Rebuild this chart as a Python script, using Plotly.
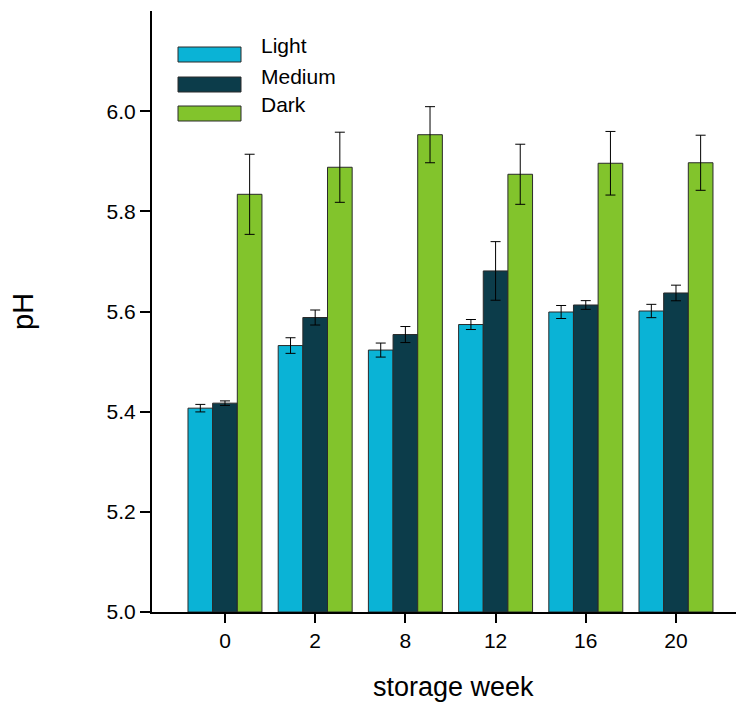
import plotly.graph_objects as go

weeks = ["0", "2", "8", "12", "16", "20"]
light = [5.407, 5.532, 5.523, 5.574, 5.599, 5.601]
light_err = [0.0075, 0.0156, 0.014, 0.010, 0.013, 0.0133]
medium = [5.417, 5.588, 5.554, 5.681, 5.613, 5.637]
medium_err = [0.0045, 0.015, 0.016, 0.0585, 0.0087, 0.0156]
dark = [5.834, 5.888, 5.953, 5.874, 5.896, 5.897]
dark_err = [0.080, 0.070, 0.056, 0.060, 0.0635, 0.055]

series_names = ["Light", "Medium", "Dark"]
colors = ["#0AB3D6", "#0C3C4A", "#82C42C"]
y_ticks = [5.0, 5.2, 5.4, 5.6, 5.8, 6.0]

FONT = "Liberation Sans, Arial, sans-serif"

fig = go.Figure()
for name, vals, errs, col in zip(series_names, [light, medium, dark],
                                 [light_err, medium_err, dark_err], colors):
    fig.add_trace(go.Bar(
        x=weeks, y=[v - 5.0 for v in vals], base=5.0, name=name,
        marker=dict(color=col, line=dict(color="#2a2a2a", width=1)),
        error_y=dict(type="data", array=errs, color="black", thickness=1, width=5),
        showlegend=False,
    ))

# page offset (browser body margin)
OFF = 8
W, H = 744 - OFF, 704 - OFF
# page-coordinate plot box: left 152, top 11, bottom 612, right 744
L, R, T, B = 152 - OFF, 0, 11 - OFF, 704 - 612
pw, ph = W - L - R, H - T - B

def px_x(px):
    return (px - OFF - L) / pw

def px_y(py):
    return (H - B - (py - OFF)) / ph

# legend drawn as swatches + labels
leg_rows = [(47, 62, 46), (77, 92, 76), (106, 121, 105)]
for (y0, y1, ty), name, col in zip(leg_rows, series_names, colors):
    fig.add_shape(type="rect", xref="paper", yref="paper",
                  x0=px_x(178), x1=px_x(241), y0=px_y(y1), y1=px_y(y0),
                  fillcolor=col, line=dict(color="#2a2a2a", width=1))
    fig.add_annotation(xref="paper", yref="paper", x=px_x(259), y=px_y(ty),
                       text=name, showarrow=False, xanchor="left", yanchor="middle",
                       font=dict(family=FONT, size=21, color="black"))

fig.add_annotation(xref="paper", yref="paper", x=px_x(23), y=px_y(312),
                   text="pH", textangle=-90, showarrow=False,
                   xanchor="center", yanchor="middle",
                   font=dict(family=FONT, size=29, color="black"))
fig.add_annotation(xref="paper", yref="paper", x=px_x(453), y=px_y(687),
                   text="storage week", showarrow=False,
                   xanchor="center", yanchor="middle",
                   font=dict(family=FONT, size=27, color="black"))

fig.update_layout(
    width=W, height=H,
    margin=dict(l=L, r=R, t=T, b=B),
    paper_bgcolor="white", plot_bgcolor="white",
    barmode="group", bargap=0.18, bargroupgap=0,
    font=dict(family=FONT, size=21, color="black"),
    xaxis=dict(type="category", range=[-0.809, 5.754], showgrid=False,
               showline=True, linecolor="black", linewidth=2,
               ticks="outside", ticklen=9, tickwidth=2, tickcolor="black",
               tickfont=dict(size=21), zeroline=False),
    yaxis=dict(range=[5.0, 6.2], showgrid=False, zeroline=False,
               showline=True, linecolor="black", linewidth=2,
               ticks="outside", ticklen=10, tickwidth=2, tickcolor="black",
               tickvals=y_ticks, ticktext=[f"{v:.1f}" for v in y_ticks],
               tickfont=dict(size=21)),
)

fig.write_html("out.html")
